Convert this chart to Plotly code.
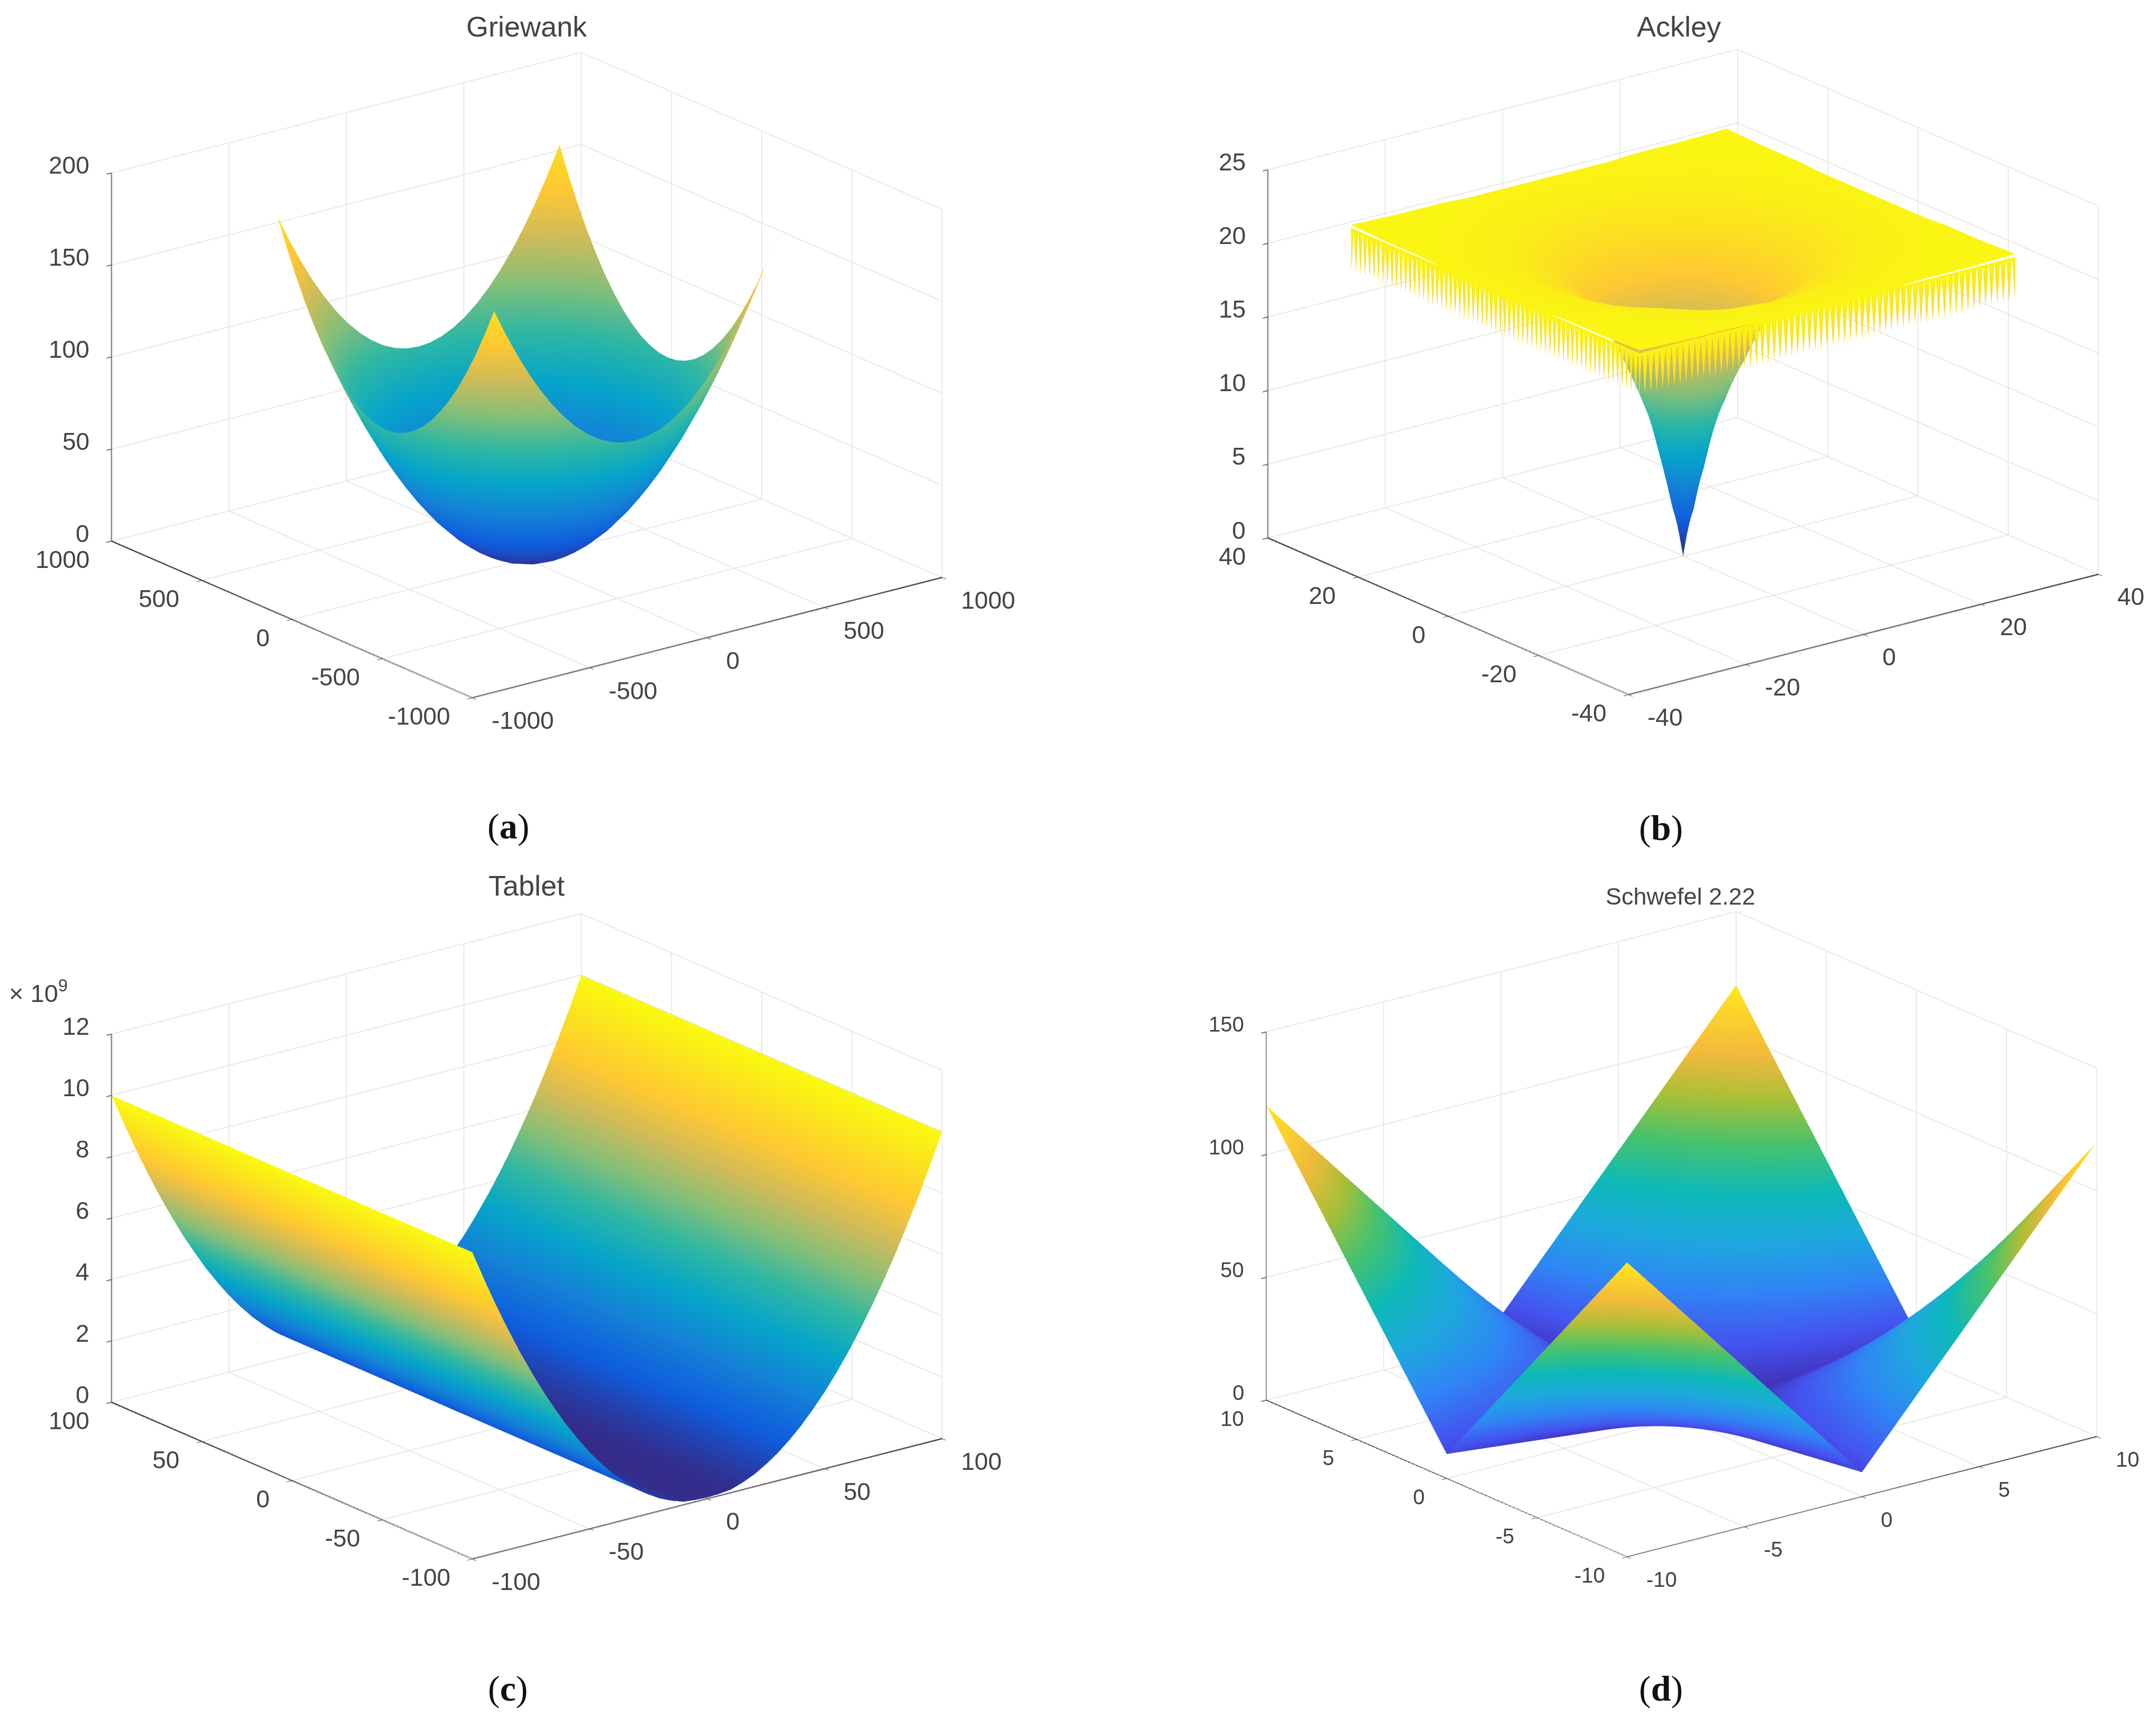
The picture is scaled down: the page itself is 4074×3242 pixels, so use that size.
import plotly.graph_objects as go

# parula-like colours
PARULA = [
    [0.0, '#352a87'], [0.111, '#0f5cdd'], [0.222, '#1481d6'], [0.333, '#06a4ca'],
    [0.444, '#2eb7a4'], [0.556, '#87bf77'], [0.667, '#d1bb59'], [0.778, '#fec832'],
    [1.0, '#f9fb0e'],
]
# panel (d) was made with the newer, brighter parula
PARULA_NEW = [
    [0.0, '#3e26a8'], [0.11, '#4553f0'], [0.22, '#2f86f4'], [0.33, '#1ea8de'],
    [0.44, '#0db9b8'], [0.56, '#48c26d'], [0.67, '#a9bf38'], [0.78, '#f0ba3c'],
    [0.89, '#fdd32a'], [1.0, '#f9fb15'],
]

# Griewank: one quadrant, the surface is symmetric
GRIEWANK_XY_TICKS = [-1000, -500, 0, 500, 1000]
GRIEWANK_Z_TICKS = [0, 50, 100, 150, 200]
GRIEWANK_AXIS = [0, 50, 100, 150, 200, 250, 300, 350, 400, 450, 500, 550, 600]
GRIEWANK_Z = [
    [0, 0.6, 2.5, 5.6, 10, 15.6, 22.5, 30.6, 40, 50.6, 62.5, 75.6, 90],
    [0.6, 1.2, 3.1, 6.2, 10.6, 16.2, 23.1, 31.2, 40.6, 51.2, 63.1, 76.2, 90.6],
    [2.5, 3.1, 5, 8.1, 12.5, 18.1, 25, 33.1, 42.5, 53.1, 65, 78.1, 92.5],
    [5.6, 6.2, 8.1, 11.2, 15.6, 21.2, 28.1, 36.2, 45.6, 56.2, 68.1, 81.2, 95.6],
    [10, 10.6, 12.5, 15.6, 20, 25.6, 32.5, 40.6, 50, 60.6, 72.5, 85.6, 100],
    [15.6, 16.2, 18.1, 21.2, 25.6, 31.2, 38.1, 46.2, 55.6, 66.2, 78.1, 91.2, 105.6],
    [22.5, 23.1, 25, 28.1, 32.5, 38.1, 45, 53.1, 62.5, 73.1, 85, 98.1, 112.5],
    [30.6, 31.2, 33.1, 36.2, 40.6, 46.2, 53.1, 61.2, 70.6, 81.2, 93.1, 106.2, 120.6],
    [40, 40.6, 42.5, 45.6, 50, 55.6, 62.5, 70.6, 80, 90.6, 102.5, 115.6, 130],
    [50.6, 51.2, 53.1, 56.2, 60.6, 66.2, 73.1, 81.2, 90.6, 101.2, 113.1, 126.2, 140.6],
    [62.5, 63.1, 65, 68.1, 72.5, 78.1, 85, 93.1, 102.5, 113.1, 125, 138.1, 152.5],
    [75.6, 76.2, 78.1, 81.2, 85.6, 91.2, 98.1, 106.2, 115.6, 126.2, 138.1, 151.2, 165.6],
    [90, 90.6, 92.5, 95.6, 100, 105.6, 112.5, 120.6, 130, 140.6, 152.5, 165.6, 180],
]

# Ackley: quadrant, gaps double outwards so plotly does not resample it to a huge mesh
ACKLEY_XY_TICKS = [-40, -20, 0, 20, 40]
ACKLEY_Z_TICKS = [0, 5, 10, 15, 20, 25]
ACKLEY_AXIS = [0, 1, 2, 4, 6, 8, 12, 16, 24, 32]
ACKLEY_Z = [
    [0, 2.3, 4.5, 8.5, 11.0, 13.5, 17.0, 19.0, 20.8, 21.3],
    [2.3, 3.2, 5.0, 8.7, 11.1, 13.6, 17.0, 19.0, 20.8, 21.3],
    [4.5, 5.0, 6.1, 9.3, 11.5, 13.9, 17.1, 19.1, 20.8, 21.3],
    [8.5, 8.7, 9.3, 10.7, 12.5, 14.4, 17.4, 19.2, 20.8, 21.3],
    [11.0, 11.1, 11.5, 12.5, 13.6, 15.2, 17.8, 19.4, 20.9, 21.3],
    [13.5, 13.6, 13.9, 14.4, 15.2, 16.2, 18.3, 19.6, 20.9, 21.3],
    [17.0, 17.0, 17.1, 17.4, 17.8, 18.3, 19.2, 20.1, 21.0, 21.3],
    [19.0, 19.0, 19.1, 19.2, 19.4, 19.6, 20.1, 20.6, 21.1, 21.4],
    [20.8, 20.8, 20.8, 20.8, 20.9, 20.9, 21.0, 21.1, 21.3, 21.4],
    [21.3, 21.3, 21.3, 21.3, 21.3, 21.3, 21.3, 21.4, 21.4, 21.5],
]
# saw teeth hanging under the front of the Ackley plate, about one per unit
RIM_AXIS = [i / 2 for i in range(-64, 65)]
RIM_TEETH = [18.4, 21.3] * 64 + [18.4]
RIM_TOP = [21.3] * 129

# Tablet: only varies along x, z in units of 1e9
TABLET_XY_TICKS = [-100, -50, 0, 50, 100]
TABLET_Z_TICKS = [0, 2, 4, 6, 8, 10, 12]
TABLET_X = [-100, -95, -90, -85, -80, -75, -70, -65, -60, -55, -50, -45, -40, -35, -30, -25, -20, -15, -10, -5, 0,
            5, 10, 15, 20, 25, 30, 35, 40, 45, 50, 55, 60, 65, 70, 75, 80, 85, 90, 95, 100]
TABLET_Y = [-100, 100]
TABLET_Z = [10, 9.03, 8.1, 7.23, 6.4, 5.63, 4.9, 4.23, 3.6, 3.03, 2.5, 2.03, 1.6, 1.23, 0.9, 0.63, 0.4, 0.23, 0.1, 0.06, 0.04,
            0.06, 0.1, 0.23, 0.4, 0.63, 0.9, 1.23, 1.6, 2.03, 2.5, 3.03, 3.6, 4.23, 4.9, 5.63, 6.4, 7.23, 8.1, 9.03, 10]

# Schwefel 2.22: quadrant
SCHWEFEL_XY_TICKS = [-10, -5, 0, 5, 10]
SCHWEFEL_Z_TICKS = [0, 50, 100, 150]
SCHWEFEL_AXIS = [0, 1, 2, 3, 4, 5, 6, 7, 8, 9, 10]
SCHWEFEL_Z = [
    [0, 1, 2, 3, 4, 5, 6, 7, 8, 9, 10],
    [1, 3, 5, 7, 9, 11, 13, 15, 17, 19, 21],
    [2, 5, 8, 11, 14, 17, 20, 23, 26, 29, 32],
    [3, 7, 11, 15, 19, 23, 27, 31, 35, 39, 43],
    [4, 9, 14, 19, 24, 29, 34, 39, 44, 49, 54],
    [5, 11, 17, 23, 29, 35, 41, 47, 53, 59, 65],
    [6, 13, 20, 27, 34, 41, 48, 55, 62, 69, 76],
    [7, 15, 23, 31, 39, 47, 55, 63, 71, 79, 87],
    [8, 17, 26, 35, 44, 53, 62, 71, 80, 89, 98],
    [9, 19, 29, 39, 49, 59, 69, 79, 89, 99, 109],
    [10, 21, 32, 43, 54, 65, 76, 87, 98, 109, 120],
]

AZ_X, AZ_Y = -0.609, -0.793
SIN_EL, COS_EL = 0.32, 0.947
TICK_COLOR = '#444444'


def mirror_axis(values):
    return [-v for v in values[:0:-1]] + values


def mirror_grid(rows):
    full = [r[:0:-1] + r for r in rows]
    return full[:0:-1] + full


def surface(x, y, z, scene, cmin, cmax, colorscale=PARULA):
    off = dict(show=False, highlight=False)
    return go.Surface(
        x=x, y=y, z=z, scene=scene, cmin=cmin, cmax=cmax,
        colorscale=colorscale, showscale=False, hoverinfo='skip',
        contours=dict(x=off, y=off, z=off),
        lighting=dict(ambient=1, diffuse=0, specular=0, fresnel=0, roughness=1),
    )


def lines(segments, scene, color, width):
    xs, ys, zs = [], [], []
    for p, q in segments:
        xs += [p[0], q[0], None]
        ys += [p[1], q[1], None]
        zs += [p[2], q[2], None]
    return go.Scatter3d(x=xs, y=ys, z=zs, scene=scene, mode='lines', hoverinfo='skip',
                        showlegend=False, line=dict(color=color, width=width))


def add_box(scene, xy_ticks, z_ticks, axis_width):
    lo, hi = xy_ticks[0], xy_ticks[-1]
    zlo, zhi = z_ticks[0], z_ticks[-1]
    grid = []
    for t in xy_ticks:
        grid.append(((t, lo, zlo), (t, hi, zlo)))
        grid.append(((lo, t, zlo), (hi, t, zlo)))
        grid.append(((t, hi, zlo), (t, hi, zhi)))
        grid.append(((hi, t, zlo), (hi, t, zhi)))
    for z in z_ticks:
        grid.append(((lo, hi, z), (hi, hi, z)))
        grid.append(((hi, lo, z), (hi, hi, z)))
    fig.add_trace(lines(grid, scene, '#e2e2e2', 3))
    floor = [((lo, lo, zlo), (hi, lo, zlo)), ((lo, lo, zlo), (lo, hi, zlo))]
    fig.add_trace(lines(floor, scene, '#444444', axis_width))
    fig.add_trace(lines([((lo, hi, zlo), (lo, hi, zhi))], scene, '#8a8a8a', axis_width))


def tick_labels(xy_ticks, z_ticks, size):
    lo, hi = xy_ticks[0], xy_ticks[-1]
    font = dict(family='Liberation Sans', size=size, color=TICK_COLOR)
    out = []
    for t in xy_ticks:
        out.append(dict(x=t, y=lo, z=z_ticks[0], text=str(t), showarrow=False, font=font,
                        xanchor='left', yanchor='middle', xshift=34, yshift=-42))
        out.append(dict(x=lo, y=t, z=z_ticks[0], text=str(t), showarrow=False, font=font,
                        xanchor='right', yanchor='middle', xshift=-40, yshift=-34))
    for z in z_ticks:
        out.append(dict(x=lo, y=hi, z=z, text=str(z), showarrow=False, font=font,
                        xanchor='right', yanchor='middle', xshift=-40, yshift=15))
    return out


def axis(ticks):
    return dict(
        range=[ticks[0], ticks[-1]], tickvals=ticks, title='', showbackground=False,
        showgrid=False, zeroline=False, showline=False, showticklabels=False,
        ticks='outside', ticklen=12, tickcolor=TICK_COLOR, tickwidth=3, showspikes=False,
    )


def scene(domx, domy, xy_ticks, z_ticks, size):
    return dict(
        domain=dict(x=domx, y=domy),
        xaxis=axis(xy_ticks), yaxis=axis(xy_ticks), zaxis=axis(z_ticks),
        aspectmode='manual', aspectratio=dict(x=1.57, y=1.57, z=1.035),
        camera=dict(
            projection=dict(type='orthographic'),
            center=dict(x=0, y=0, z=-0.027),
            eye=dict(x=AZ_X * COS_EL * 1.8, y=AZ_Y * COS_EL * 1.8, z=SIN_EL * 1.8),
            up=dict(x=0, y=0, z=1),
        ),
        bgcolor='white',
        annotations=tick_labels(xy_ticks, z_ticks, size),
    )


fig = go.Figure()

add_box('scene', GRIEWANK_XY_TICKS, GRIEWANK_Z_TICKS, 5)
g_axis = mirror_axis(GRIEWANK_AXIS)
fig.add_trace(surface(g_axis, g_axis, mirror_grid(GRIEWANK_Z), 'scene', 0, 205))

add_box('scene2', ACKLEY_XY_TICKS, ACKLEY_Z_TICKS, 5)
a_axis = mirror_axis(ACKLEY_AXIS)
fig.add_trace(surface(a_axis, a_axis, mirror_grid(ACKLEY_Z), 'scene2', 0, 22))
# the two hanging rims that face the viewer
fig.add_trace(surface(RIM_AXIS, [-32, -31.9], [RIM_TOP, RIM_TEETH], 'scene2', 0, 22))
fig.add_trace(surface([-32, -31.9], RIM_AXIS, [[b, t] for t, b in zip(RIM_TEETH, RIM_TOP)], 'scene2', 0, 22))

add_box('scene3', TABLET_XY_TICKS, TABLET_Z_TICKS, 5)
fig.add_trace(surface(TABLET_X, TABLET_Y, [TABLET_Z, TABLET_Z], 'scene3', 0, 10))

add_box('scene4', SCHWEFEL_XY_TICKS, SCHWEFEL_Z_TICKS, 4)
s_axis = mirror_axis(SCHWEFEL_AXIS)
fig.add_trace(surface(s_axis, s_axis, mirror_grid(SCHWEFEL_Z), 'scene4', 0, 125, PARULA_NEW))

fig.update_layout(
    width=4074, height=3242, margin=dict(l=0, r=0, t=0, b=0),
    paper_bgcolor='white', showlegend=False,
    scene=scene([0.0, 0.4848], [0.558, 0.998], GRIEWANK_XY_TICKS, GRIEWANK_Z_TICKS, 46),
    scene2=scene([0.5574, 1.0], [0.56, 1.0], ACKLEY_XY_TICKS, ACKLEY_Z_TICKS, 46),
    scene3=scene([0.0, 0.4848], [0.0562, 0.4962], TABLET_XY_TICKS, TABLET_Z_TICKS, 46),
    scene4=scene([0.556, 1.0], [0.0574, 0.4974], SCHWEFEL_XY_TICKS, SCHWEFEL_Z_TICKS, 40),
)


def label(text, x, y, size, family='Liberation Sans', color='#444444'):
    fig.add_annotation(text=text, x=x / 1568, y=1 - y / 1248, xref='paper', yref='paper',
                       xanchor='center', yanchor='middle', showarrow=False,
                       font=dict(family=family, size=size, color=color))


label('Griewank', 380, 16, 54)
label('Ackley', 1218, 16, 54)
label('Tablet', 380, 641, 54)
label('Schwefel 2.22', 1219, 649, 45)
label('× 10<sup>9</sup>', 25, 718, 47)
serif = 'Liberation Serif'
label('(<b>a</b>)', 366.5, 598, 68, serif, '#111111')
label('(<b>b</b>)', 1205, 599, 68, serif, '#111111')
label('(<b>c</b>)', 366.5, 1225, 68, serif, '#111111')
label('(<b>d</b>)', 1205, 1225, 68, serif, '#111111')

# the default pixel ratio of 2 is too slow with four scenes at this size
fig.write_html("out.html", config={'plotGlPixelRatio': 1})
